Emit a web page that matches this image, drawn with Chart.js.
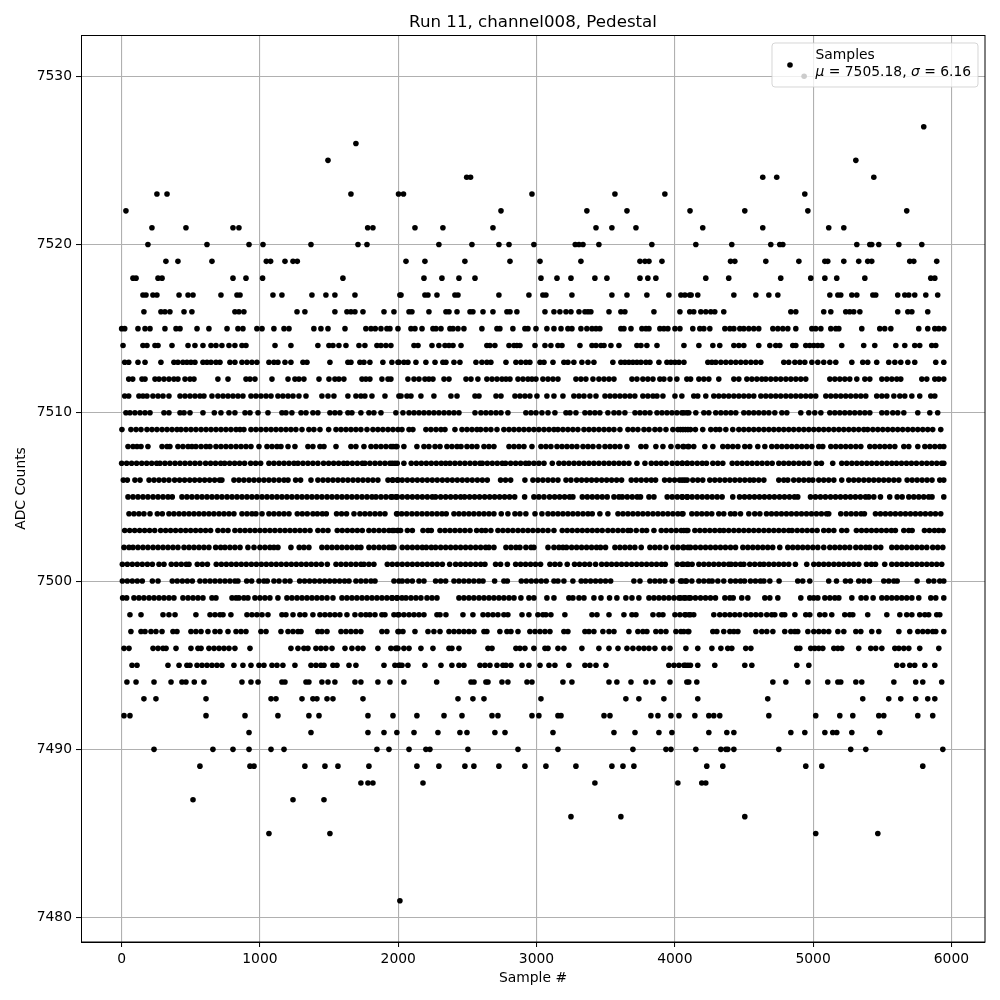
<!DOCTYPE html>
<html><head><meta charset="utf-8">
<style>html,body{margin:0;padding:0;background:#fff}#wrap{width:1000px;height:1000px;position:relative}</style>
<script src="https://cdn.jsdelivr.net/npm/chart.js@4"></script>
</head><body><div id="wrap"><canvas id="c" width="1000" height="1000"></canvas></div>
<script>
const chartTitle="Run 11, channel008, Pedestal";
const xLabel="Sample #";
const yLabel="ADC Counts";
const xTicks=[0,1000,2000,3000,4000,5000,6000];
const yTicks=[7480,7490,7500,7510,7520,7530];
const legendName="Samples";
const legendMu="7505.18";
const legendSigma="6.16";
const adc7530=[4935];
const adc7527=[5800];
const adc7526=[1694];
const adc7525=[1492,5309];
const adc7524=[2495,2523,4636,4737,5439];
const adc7523=[255,328,1658,2002,2038,2967,3567,3928,4940];
const adc7522=[31,2743,3364,3654,4110,4506,4962,5677];
const adc7521=[219,465,805,848,1779,1817,2121,2323,2685,3430,3545,3719,4202,4636,5113,5222];
const adc7520=[190,617,921,1022,1369,1709,1774,2294,2533,2728,2801,2981,3280,3307,3336,3451,3834,4152,4412,4694,4759,4781,5316,5410,5424,5475,5620,5786];
const adc7519=[320,407,653,1046,1077,1181,1239,1270,2056,2193,2482,2808,3025,3321,3748,3784,3813,3907,4403,4434,4658,4897,5085,5106,5222,5330,5395,5424,5699,5728,5894];
const adc7518=[82,104,263,292,805,899,1019,1600,2186,2316,2439,2555,3032,3148,3249,3422,3509,3748,3805,3863,4224,4390,4766,4983,5085,5171,5374,5851,5880];
const adc7517=[154,176,226,255,415,480,516,718,834,856,1094,1159,1376,1477,1542,1687,2012,2020,2193,2215,2280,2410,2432,2728,2945,3046,3068,3256,3545,3654,3798,3957,4044,4073,4107,4118,4166,4427,4586,4680,4745,5121,5179,5200,5280,5316,5432,5453,5612,5663,5692,5735,5815,5901];
const adc7516=[161,284,313,349,451,508,819,848,884,1268,1325,1542,1629,1658,1687,1745,1897,1969,2078,2099,2222,2345,2367,2425,2519,2540,2613,2685,2786,2808,2858,3061,3126,3169,3213,3249,3307,3350,3372,3393,3524,3610,3639,3849,4037,4108,4137,4188,4224,4260,4289,4354,4839,4875,5077,5128,5236,5265,5294,5338,5612,5685,5714,5829];
const adc7515=[0,22,118,169,205,313,393,422,545,631,762,841,877,978,1015,1101,1174,1210,1390,1441,1492,1615,1766,1803,1834,1875,1918,1940,1998,2092,2121,2172,2251,2273,2309,2374,2396,2432,2475,2605,2714,2735,2829,2916,2938,2996,3075,3126,3177,3227,3256,3321,3364,3401,3430,3458,3610,3632,3683,3762,3791,3813,3892,3921,3950,4001,4037,4130,4181,4210,4253,4362,4398,4427,4470,4499,4535,4571,4607,4709,4745,4781,4817,4875,4991,5019,5056,5128,5164,5186,5352,5482,5518,5562,5764,5829,5880,5909,5945];
const adc7514=[10,154,183,241,263,364,480,530,588,646,682,725,776,819,870,899,1109,1224,1419,1499,1528,1571,1622,1716,1759,1846,1875,1911,1947,2114,2143,2244,2294,2338,2367,2396,2454,2641,2663,2699,2801,2837,2858,2880,2989,3061,3104,3155,3184,3314,3401,3430,3466,3488,3538,3596,3726,3755,3798,3871,4066,4174,4275,4325,4427,4463,4499,4607,4687,4730,4759,4853,4875,4947,4976,5005,5034,5063,5207,5366,5446,5598,5663,5735,5771,5858,5887];
const adc7513=[22,51,118,169,284,378,407,443,472,501,530,588,617,646,682,711,783,819,870,906,942,978,1065,1101,1130,1181,1224,1311,1340,1506,1636,1658,1723,1752,1795,1889,1954,1998,2005,2041,2070,2128,2200,2266,2323,2345,2403,2446,2562,2605,2641,2670,2779,2851,2887,2923,2952,3025,3054,3119,3198,3227,3270,3328,3372,3415,3552,3610,3639,3668,3697,3726,3755,3791,3820,3885,3943,3972,4001,4030,4066,4239,4268,4296,4333,4369,4405,4441,4477,4513,4550,4586,4622,4788,4824,4868,4904,4940,4991,5034,5077,5121,5164,5280,5359,5395,5460,5547,5591,5634,5685,5735,5887,5945];
const adc7512=[51,80,147,169,241,270,306,342,378,407,458,494,523,696,769,899,928,964,1087,1203,1253,1282,1318,1427,1499,1542,1571,1607,1738,1766,1795,1882,1926,1947,2070,2114,2150,2193,2222,2251,2331,2367,2490,2526,2576,2641,2678,2714,2750,2779,2808,2866,2902,2938,2967,2996,3046,3083,3119,3155,3285,3321,3357,3408,3451,3488,3524,3560,3690,3726,3769,3805,3842,3892,3921,3965,4015,4087,4114,4174,4210,4246,4318,4427,4463,4521,4557,4593,4629,4658,4694,4730,4766,4803,4839,4875,4911,4947,5121,5157,5193,5229,5265,5316,5374,5410,5497,5533,5569,5605,5634,5786,5822,5880,5909,5945];
const adc7511=[22,51,125,154,183,226,263,299,342,422,458,494,530,566,595,653,696,733,769,805,841,877,935,971,1007,1044,1080,1130,1166,1203,1239,1282,1333,1448,1492,1535,1636,1694,1730,1759,1810,1904,2005,2020,2063,2092,2164,2258,2381,2425,2555,2584,2707,2743,2844,2880,2916,2952,3003,3075,3126,3191,3270,3307,3343,3386,3430,3495,3531,3567,3603,3639,3675,3711,3769,3805,3842,3871,3914,4001,4051,4137,4166,4224,4282,4318,4354,4390,4427,4463,4499,4535,4571,4622,4658,4694,4730,4766,4803,4839,4875,4911,4947,4983,5019,5092,5128,5164,5200,5236,5272,5309,5345,5381,5460,5497,5533,5584,5627,5663,5714,5771,5851,5880];
const adc7510=[31,60,96,133,169,205,306,342,422,451,494,588,670,718,776,819,892,928,986,1058,1159,1188,1231,1297,1333,1383,1419,1506,1542,1578,1636,1665,1730,1788,1824,1875,1983,2034,2078,2114,2150,2186,2222,2258,2294,2331,2367,2403,2439,2555,2598,2634,2670,2707,2743,2793,2923,2960,2996,3039,3083,3133,3213,3242,3285,3350,3386,3422,3458,3516,3560,3596,3639,3712,3748,3784,3820,3871,3907,3943,3979,4015,4051,4087,4065,4101,4152,4210,4246,4296,4333,4369,4405,4441,4499,4535,4571,4607,4644,4680,4723,4774,4810,4911,4969,5012,5056,5121,5157,5193,5229,5265,5301,5338,5374,5410,5497,5533,5576,5612,5656,5757,5844,5901];
const adc7509=[2,67,104,140,183,219,255,292,328,364,400,429,465,501,537,574,610,646,682,718,754,790,827,856,884,935,971,1007,1044,1080,1116,1152,1188,1224,1260,1304,1354,1390,1434,1497,1550,1586,1622,1658,1694,1730,1774,1817,1853,1889,1926,1962,1998,2027,2078,2106,2200,2236,2273,2309,2338,2410,2461,2497,2533,2569,2596,2634,2670,2714,2764,2801,2837,2873,2909,2945,2981,3017,3054,3090,3126,3155,3191,3227,3263,3299,3343,3379,3415,3451,3488,3524,3560,3603,3661,3697,3733,3777,3813,3856,3892,3936,3986,4022,4059,4095,4041,4077,4113,4149,4202,4260,4296,4325,4369,4419,4463,4499,4535,4571,4607,4644,4680,4716,4752,4788,4824,4860,4897,4933,4969,5005,5041,5077,5113,5150,5186,5222,5258,5294,5330,5367,5395,5432,5468,5504,5540,5576,5612,5648,5685,5721,5757,5793,5829,5865,5923];
const adc7508=[46,82,111,140,190,292,328,349,407,443,480,508,537,574,610,639,682,718,754,790,827,863,899,935,993,1051,1087,1123,1152,1203,1253,1347,1383,1434,1463,1550,1658,1694,1752,1803,1839,1875,1911,1947,1983,1962,1991,2041,2135,2186,2222,2266,2302,2352,2388,2425,2454,2497,2533,2569,2620,2656,2692,2801,2837,2873,2909,2967,3032,3068,3104,3148,3184,3220,3256,3292,3336,3372,3408,3451,3495,3531,3567,3603,3654,3755,3791,3863,3914,3972,4022,4059,4095,4065,4101,4137,4217,4275,4347,4383,4419,4456,4506,4542,4600,4651,4701,4738,4774,4810,4846,4882,4918,4954,4991,5041,5070,5128,5164,5200,5236,5272,5309,5345,5410,5446,5482,5518,5554,5591,5656,5692,5757,5808,5844,5880,5916,5945];
const adc7507=[0,36,72,108,145,181,217,253,277,313,349,386,422,458,494,530,566,607,643,679,716,745,781,817,853,889,933,969,1005,1065,1101,1138,1174,1210,1246,1275,1311,1347,1383,1419,1460,1497,1533,1569,1605,1632,1668,1704,1740,1759,1795,1832,1868,1904,1940,1976,1957,1993,2041,2094,2131,2167,2203,2239,2275,2311,2343,2374,2410,2446,2482,2519,2555,2591,2608,2644,2680,2716,2752,2776,2813,2849,2885,2921,2945,2981,3017,3054,3114,3162,3198,3234,3271,3307,3343,3379,3415,3451,3488,3524,3560,3596,3632,3668,3726,3784,3830,3866,3902,3938,3981,4018,4054,4090,4053,4089,4125,4162,4198,4229,4275,4311,4347,4415,4451,4487,4523,4559,4595,4631,4668,4704,4752,4788,4824,4860,4897,4933,4969,5024,5060,5142,5207,5243,5280,5316,5352,5388,5424,5460,5497,5533,5569,5603,5639,5675,5711,5747,5786,5822,5858,5894,5930,5945];
const adc7506=[12,41,96,133,198,234,270,306,342,383,419,455,492,528,564,600,636,672,708,725,812,848,884,921,957,993,1029,1065,1101,1138,1174,1203,1258,1294,1369,1419,1456,1492,1528,1564,1600,1636,1673,1709,1745,1781,1817,1853,1926,1962,1998,1957,1993,2029,2066,2102,2138,2174,2210,2246,2282,2319,2355,2391,2427,2463,2499,2535,2572,2608,2644,2740,2776,2813,2916,2974,3010,3046,3083,3119,3155,3213,3249,3290,3326,3362,3398,3434,3471,3507,3543,3579,3615,3685,3721,3757,3794,3830,3861,3926,3962,3998,4034,4071,4053,4089,4130,4166,4202,4253,4289,4325,4362,4398,4434,4470,4506,4542,4571,4607,4644,4752,4788,4817,4860,4897,4933,4969,4998,5041,5077,5113,5150,5207,5258,5294,5330,5367,5403,5439,5475,5511,5547,5584,5620,5680,5716,5752,5788,5824,5860,5916,5945];
const adc7505=[46,82,118,154,190,227,263,299,335,366,436,472,508,545,581,617,653,689,725,762,798,834,870,906,942,978,1015,1051,1087,1123,1159,1195,1231,1268,1304,1340,1376,1412,1448,1485,1521,1557,1593,1629,1665,1701,1738,1774,1810,1839,1875,1911,1947,1983,1957,1993,2029,2066,2102,2138,2174,2210,2246,2270,2307,2343,2379,2415,2451,2480,2516,2552,2588,2625,2661,2697,2733,2769,2805,2842,2914,2981,3017,3054,3094,3131,3167,3203,3239,3263,3331,3367,3403,3439,3475,3511,3560,3596,3620,3656,3692,3728,3752,3813,3849,3945,3981,4018,4054,4090,4053,4089,4125,4162,4198,4234,4270,4306,4342,4419,4468,4504,4540,4576,4612,4648,4684,4720,4757,4793,4829,4865,4889,4981,5017,5053,5089,5126,5162,5198,5234,5270,5306,5342,5379,5403,5439,5487,5554,5608,5644,5692,5728,5764,5800,5836,5860,5945];
const adc7504=[53,89,125,161,205,258,294,342,378,415,451,487,523,559,595,631,667,704,740,776,812,870,906,942,971,1015,1065,1101,1138,1174,1210,1270,1306,1342,1383,1415,1451,1480,1554,1590,1626,1680,1723,1759,1795,1832,1868,1904,1993,1988,2025,2061,2099,2135,2172,2208,2244,2280,2316,2347,2403,2439,2475,2511,2547,2584,2620,2656,2692,2745,2793,2844,2880,2923,2989,3039,3083,3119,3155,3191,3227,3263,3299,3336,3372,3403,3458,3516,3589,3625,3661,3697,3733,3769,3805,3842,3878,3914,3950,3986,4022,4059,4053,4123,4159,4195,4231,4267,4318,4354,4403,4434,4475,4535,4578,4615,4663,4699,4735,4771,4807,4843,4880,4916,4952,4988,5024,5060,5097,5113,5200,5239,5275,5311,5347,5371,5451,5487,5523,5559,5595,5632,5668,5704,5740,5776,5812,5849,5885,5923];
const adc7503=[22,58,94,130,166,202,239,282,318,354,390,427,463,499,535,571,607,643,696,733,769,819,856,892,928,964,1000,1036,1072,1108,1145,1181,1217,1253,1289,1325,1362,1419,1456,1492,1559,1595,1632,1668,1704,1740,1788,1824,1861,1897,1933,1969,1998,1957,1993,2017,2066,2102,2179,2215,2239,2302,2338,2374,2410,2446,2482,2519,2567,2603,2632,2670,2721,2757,2793,2829,2866,2902,2938,2974,3010,3046,3083,3126,3186,3222,3258,3295,3331,3367,3403,3439,3475,3516,3552,3589,3625,3661,3680,3721,3764,3796,3849,3902,3938,3974,4010,4046,4083,4065,4094,4145,4181,4217,4253,4289,4325,4354,4390,4427,4463,4499,4535,4571,4607,4644,4680,4716,4752,4788,4824,4848,4885,4921,4957,4993,5029,5077,5113,5150,5207,5243,5313,5350,5386,5422,5458,5494,5530,5566,5595,5656,5692,5716,5805,5841,5877,5909,5940];
const adc7502=[17,53,82,118,154,190,227,263,299,335,371,407,451,487,523,559,595,631,680,716,747,783,819,856,913,957,1000,1036,1072,1101,1130,1224,1284,1318,1354,1448,1485,1521,1557,1593,1629,1665,1701,1730,1788,1824,1861,1897,1933,1969,1957,2029,2066,2102,2138,2174,2203,2239,2270,2307,2343,2379,2415,2451,2487,2523,2560,2596,2632,2656,2692,2779,2815,2851,2880,2923,2960,2981,3083,3126,3162,3191,3217,3254,3290,3326,3362,3398,3434,3463,3499,3567,3603,3639,3675,3711,3757,3820,3856,3892,3936,3986,4022,4059,4095,4065,4113,4149,4186,4222,4258,4294,4330,4366,4403,4439,4492,4528,4564,4600,4636,4672,4708,4759,4817,4853,4889,4925,4961,4998,5034,5077,5121,5157,5193,5229,5265,5309,5345,5381,5410,5453,5489,5569,5605,5641,5677,5714,5750,5786,5822,5865,5901,5938];
const adc7501=[5,41,77,113,149,186,222,270,306,359,395,431,467,487,547,583,620,684,721,757,793,829,865,901,938,974,1010,1046,1082,1118,1154,1191,1227,1263,1299,1335,1371,1407,1444,1487,1550,1586,1622,1658,1694,1730,1752,1788,1824,1921,1957,1993,2029,2066,2102,2138,2174,2210,2246,2282,2319,2372,2415,2451,2487,2523,2560,2596,2627,2704,2740,2789,2849,2885,2921,2957,2993,3029,3097,3133,3169,3222,3275,3311,3348,3384,3427,3471,3507,3543,3579,3615,3651,3688,3724,3760,3796,3832,3868,3904,3931,4018,4061,4097,4053,4089,4125,4174,4210,4246,4282,4318,4354,4390,4407,4439,4475,4499,4542,4578,4615,4644,4680,4716,4752,4788,4824,4872,4954,5005,5041,5077,5113,5150,5186,5222,5258,5294,5330,5386,5422,5451,5518,5569,5605,5641,5677,5714,5750,5786,5822,5858,5894,5930];
const adc7500=[5,41,77,113,149,222,263,366,402,439,475,511,566,603,639,675,711,747,783,819,841,904,940,993,1029,1053,1101,1138,1181,1217,1287,1323,1359,1395,1432,1468,1504,1540,1576,1612,1644,1694,1730,1766,1803,1832,1969,2005,2029,2066,2102,2150,2186,2270,2307,2343,2403,2439,2475,2511,2547,2584,2613,2697,2764,2789,2890,2926,2962,2998,3034,3070,3126,3155,3198,3263,3323,3355,3391,3427,3463,3499,3536,3704,3748,3820,3856,3892,3928,3981,4042,4078,4053,4084,4123,4174,4210,4246,4270,4311,4354,4403,4439,4475,4504,4547,4583,4619,4644,4687,4754,4889,4925,4976,5113,5169,5234,5270,5330,5367,5407,5511,5547,5584,5608,5752,5836,5873,5916,5945];
const adc7499=[7,36,89,125,161,198,234,270,306,342,378,443,480,516,552,588,653,682,798,827,848,884,913,964,1000,1036,1072,1130,1195,1231,1268,1304,1340,1376,1412,1448,1485,1528,1593,1629,1665,1701,1738,1774,1810,1846,1882,1918,1954,1990,1957,1993,2027,2056,2092,2128,2164,2208,2244,2280,2439,2475,2511,2547,2584,2620,2656,2692,2728,2764,2801,2837,2887,2945,2981,3075,3126,3234,3263,3307,3343,3415,3466,3528,3581,3646,3690,3740,3813,3849,3885,3921,3957,3994,4030,4066,4102,4041,4077,4113,4149,4186,4222,4258,4294,4362,4398,4422,4484,4528,4651,4687,4745,4911,4976,5005,5034,5085,5121,5157,5186,5280,5347,5383,5434,5497,5533,5569,5605,5641,5677,5714,5764,5851,5887,5945];
const adc7498=[60,140,299,342,386,537,639,675,711,733,790,906,942,978,1015,1058,1159,1188,1239,1289,1325,1383,1434,1470,1506,1542,1578,1629,1687,1730,1766,1795,1832,1882,1904,1969,1998,2005,2041,2078,2114,2150,2186,2280,2302,2345,2468,2540,2613,2649,2685,2721,2764,2793,2895,2945,3010,3046,3068,3104,3205,3401,3437,3524,3632,3690,3719,3842,3885,3914,4001,4037,4073,4102,4077,4113,4137,4282,4325,4362,4398,4434,4470,4513,4550,4586,4622,4665,4701,4723,4774,4795,4868,4947,4976,5048,5085,5135,5229,5265,5287,5395,5533,5627,5677,5714,5771,5808,5836,5894,5916];
const adc7497=[67,140,169,212,248,292,371,400,501,537,574,624,675,711,769,827,863,899,1007,1044,1152,1203,1239,1275,1297,1419,1448,1485,1586,1622,1658,1694,1730,1882,1918,1998,2005,2034,2121,2215,2258,2302,2367,2403,2439,2475,2511,2547,2620,2641,2735,2786,2815,2866,2952,2989,3025,3061,3097,3198,3227,3350,3379,3415,3480,3524,3560,3668,3733,3769,3798,3863,3899,3936,4008,4044,4095,4065,4101,4275,4304,4354,4398,4427,4456,4586,4629,4665,4709,4795,4839,4868,4889,4962,5005,5041,5077,5113,5179,5222,5309,5345,5424,5475,5620,5699,5757,5793,5829,5865,5887,5945];
const adc7496=[17,53,227,263,299,321,393,501,552,574,631,668,704,740,776,819,928,1224,1275,1318,1347,1405,1441,1477,1521,1615,1665,1709,1745,1853,1947,1990,1981,1998,2041,2078,2164,2251,2367,2388,2439,2649,2678,2851,2880,2916,2981,3061,3083,3155,3198,3328,3451,3524,3589,3654,3697,3740,3777,3813,3856,3921,3965,4080,4166,4268,4333,4383,4412,4513,4550,4882,4904,4983,5012,5041,5070,5150,5179,5207,5330,5417,5453,5497,5591,5620,5656,5692,5771,5909];
const adc7495=[75,111,335,415,472,494,545,581,617,653,689,725,812,877,935,993,1029,1087,1123,1166,1253,1369,1405,1441,1463,1528,1557,1644,1694,1897,1976,2005,2012,2027,2070,2193,2309,2388,2439,2475,2591,2627,2663,2714,2757,2779,2815,2895,2945,3025,3090,3133,3234,3350,3386,3430,3502,3957,3994,4030,4066,4095,4077,4113,4166,4289,4506,4557,4882,4969,5605,5648,5699,5735,5808,5880];
const adc7494=[38,104,234,357,436,465,525,595,870,935,986,1159,1181,1333,1354,1448,1492,1542,1687,1730,1853,1940,2041,2278,2526,2548,2634,2649,2750,2793,2931,2967,3191,3256,3524,3581,3683,3791,3842,3965,4087,4101,4159,4709,4803,4962,5106,5179,5200,5309,5352,5584,5742,5793,5930];
const adc7493=[161,248,610,1080,1116,1304,1383,1412,1485,1528,1745,2432,2540,2620,3032,3646,3740,3921,4166,4672,5359,5547,5634,5742,5829,5880];
const adc7492=[17,60,610,892,1130,1354,1427,1781,1962,2135,2331,2461,2678,2721,2967,3017,3155,3177,3488,3531,3827,3878,3972,4030,4145,4246,4282,4325,4680,5019,5193,5287,5475,5511,5757,5865];
const adc7491=[921,1369,1781,1897,1990,2114,2287,2446,2497,2699,2772,3119,3560,3712,3885,3979,4246,4376,4427,4839,4940,5085,5142,5171,5280,5482];
const adc7490=[234,660,805,921,1080,1174,1846,1933,2078,2200,2229,2504,2866,3155,3697,3936,3972,4152,4333,4369,4383,4427,4752,5272,5381,5938];
const adc7489=[566,928,957,1325,1470,1564,1788,2135,2294,2482,2547,2728,2916,3068,3285,3545,3625,3704,4231,4347,4947,5063,5793];
const adc7488=[1730,1781,1817,2179,3422,4022,4195,4224];
const adc7487=[516,1239,1463];
const adc7486=[3249,3610,4506];
const adc7485=[1065,1506,5019,5468];
const adc7481=[2012];
const levels=[7530,7527,7526,7525,7524,7523,7522,7521,7520,7519,7518,7517,7516,7515,7514,7513,7512,7511,7510,7509,7508,7507,7506,7505,7504,7503,7502,7501,7500,7499,7498,7497,7496,7495,7494,7493,7492,7491,7490,7489,7488,7487,7486,7485,7481];
const samplesByLevel=[adc7530,adc7527,adc7526,adc7525,adc7524,adc7523,adc7522,adc7521,adc7520,adc7519,adc7518,adc7517,adc7516,adc7515,adc7514,adc7513,adc7512,adc7511,adc7510,adc7509,adc7508,adc7507,adc7506,adc7505,adc7504,adc7503,adc7502,adc7501,adc7500,adc7499,adc7498,adc7497,adc7496,adc7495,adc7494,adc7493,adc7492,adc7491,adc7490,adc7489,adc7488,adc7487,adc7486,adc7485,adc7481];

const points=[];
levels.forEach((lv,i)=>samplesByLevel[i].forEach(s=>points.push({x:s,y:lv})));

const FONT='"DejaVu Sans"';
const framePlugin={id:'frame',
  afterDatasetsDraw(chart){
    const {ctx,chartArea:a}=chart;
    ctx.save();
    ctx.strokeStyle='#000';ctx.lineWidth=1;
    ctx.strokeRect(a.left+0.5,a.top+0.5,a.right-a.left-0.5,a.bottom-a.top-0.5);
    // legend
    const x=772,y=43,w=206,h=44,r=3;
    ctx.beginPath();ctx.roundRect(x,y,w,h,r);
    ctx.fillStyle='rgba(255,255,255,0.8)';ctx.fill();
    ctx.strokeStyle='rgba(204,204,204,0.8)';ctx.lineWidth=1;ctx.stroke();
    ctx.fillStyle='#000';
    ctx.beginPath();ctx.arc(790,65,2.8,0,Math.PI*2);ctx.fill();
    ctx.textBaseline='alphabetic';ctx.textAlign='left';
    const reg='13.89px '+FONT, ital='italic 13.89px '+FONT;
    ctx.font=reg;ctx.fillText(legendName,815.5,59);
    let tx=815.5;
    const segs=[['\u03bc',ital],[' = '+legendMu+', ',reg],['\u03c3',ital],[' = '+legendSigma,reg]];
    segs.forEach(([t,f])=>{ctx.font=f;ctx.fillText(t,tx,76);tx+=ctx.measureText(t).width;});
    ctx.restore();
  }};

new Chart(document.getElementById('c'),{
  type:'scatter',
  data:{datasets:[{label:legendName,data:points,backgroundColor:'#000',borderColor:'#000',borderWidth:0,pointRadius:2.8,pointHoverRadius:2.8}]},
  plugins:[framePlugin],
  options:{
    responsive:false,animation:false,
    layout:{padding:{left:0,right:15,top:0,bottom:0}},
    plugins:{
      legend:{display:false},tooltip:{enabled:false},
      title:{display:true,text:chartTitle,fullSize:false,color:'#000',font:{family:FONT,size:16.67,weight:'normal',lineHeight:1.2},padding:{top:13,bottom:2}}
    },
    scales:{
      x:{type:'linear',min:-294,max:6243,
        afterBuildTicks(s){s.ticks=xTicks.map(v=>({value:v}));},
        afterFit(s){s.height=58;},
        grid:{color:'#b0b0b0',lineWidth:1.1,tickColor:'#000',tickWidth:1,tickLength:5,drawTicks:true},
        border:{color:'#000',width:1},
        ticks:{color:'#000',font:{family:FONT,size:13.89},padding:4,maxRotation:0,callback:v=>String(v)},
        title:{display:true,text:xLabel,color:'#000',font:{family:FONT,size:13.89,lineHeight:1.2},padding:{top:0,bottom:13}}
      },
      y:{type:'linear',min:7478.55,max:7532.45,
        afterBuildTicks(s){s.ticks=yTicks.map(v=>({value:v}));},
        afterFit(s){s.width=81;},
        grid:{color:'#b0b0b0',lineWidth:1.1,tickColor:'#000',tickWidth:1,tickLength:5,drawTicks:true},
        border:{color:'#000',width:1},
        ticks:{color:'#000',font:{family:FONT,size:13.89},padding:4,callback:v=>String(v)},
        title:{display:true,text:yLabel,color:'#000',font:{family:FONT,size:13.89,lineHeight:1.2},padding:{top:13,bottom:0}}
      }
    }
  }
});
</script></body></html>
